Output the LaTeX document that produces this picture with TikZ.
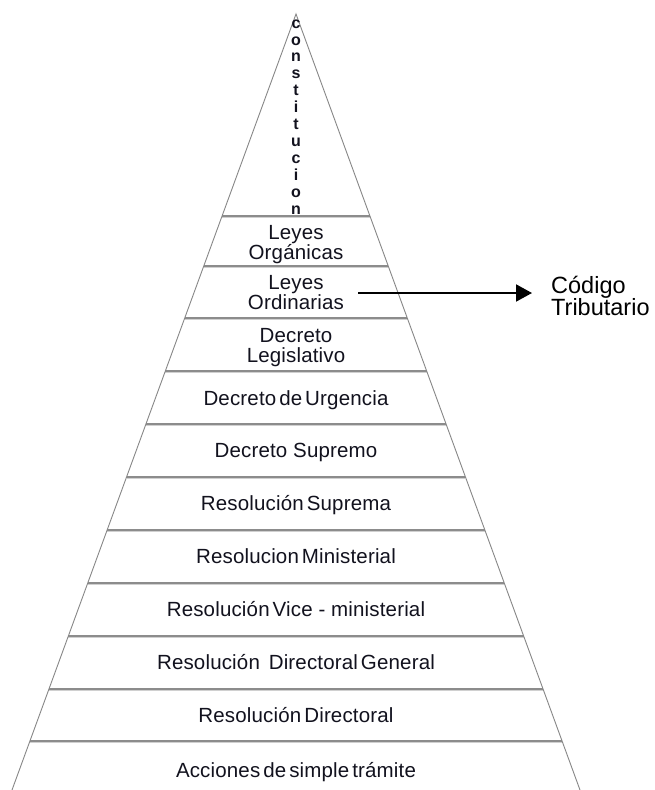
\documentclass[tikz,border=0pt]{standalone}
\usepackage{fontspec}
\setmainfont{Liberation Sans}
\newfontfamily\rowfont[LetterSpace=0.8]{Liberation Sans}
\usetikzlibrary{calc,arrows.meta}

\definecolor{inkc}{RGB}{18,18,30}
\definecolor{edgec}{RGB}{135,135,135}
\definecolor{sepc}{RGB}{140,140,140}
\definecolor{sepshade}{RGB}{208,208,208}
\newcommand\tightsp{\hspace{3pt}}

\begin{document}
\begin{tikzpicture}[x=1pt,y=-1pt,
  edge/.style={draw=edgec, line width=0.9pt},
  sepline/.style={draw=sepc, line width=1.3pt},
  sepshadow/.style={draw=sepshade, line width=1.1pt},
  rowlabel/.style={text=inkc, align=center, inner sep=3pt,
    font={\rowfont\fontsize{20.5}{20}\selectfont\lineskiplimit=-30pt}},
  toplabel/.style={text=inkc, align=center, inner sep=0pt,
    font={\rowfont\bfseries\fontsize{16}{16.95}\selectfont\lineskiplimit=-30pt}},
  sidelabel/.style={text=black, align=left, inner sep=0pt, anchor=west,
    font={\fontsize{23.5}{22}\selectfont\lineskiplimit=-30pt}},
  pointer/.style={-{Triangle[length=16pt,width=17pt]}, line width=2pt, black}
]
\useasboundingbox (0,0) rectangle (655,790);
\fill[white] (0,0) rectangle (655,790);

% pyramid outline
\coordinate (apex) at (296,14);
\coordinate (bl) at (12,790);
\coordinate (br) at (580,790);

% horizontal level separators, clipped to the sloping sides
\foreach \y in {216,266,318,371,424,477,530,583,636,689,741} {
  \pgfmathsetmacro\t{(\y-14)/776}
  \draw[sepshadow] ($(apex)!\t!(bl)+(0,1.4)$) -- ($(apex)!\t!(br)+(0,1.4)$);
  \draw[sepline] ($(apex)!\t!(bl)$) -- ($(apex)!\t!(br)$);
}
\draw[edge] (bl) -- (apex) -- (br);

% level labels
\node[toplabel] (const) at (296,117) {c\\o\\n\\s\\t\\i\\t\\u\\c\\i\\o\\n};
\node[rowlabel] (organ) at (296,245) {Leyes\\Orgánicas};
\node[rowlabel] (ordin) at (296,293) {Leyes\\Ordinarias};
\node[rowlabel] (legis) at (296,348) {Decreto\\Legislativo};
\node[rowlabel, anchor=base] (urgen) at (296,405) {Decreto\tightsp de\tightsp Urgencia};
\node[rowlabel, anchor=base] (supre) at (296,457.5) {Decreto Supremo};
\node[rowlabel, anchor=base] (rsupr) at (296,510.5) {Resolución\tightsp Suprema};
\node[rowlabel, anchor=base] (rmini) at (296,563.5) {Resolucion\tightsp Ministerial};
\node[rowlabel, anchor=base] (rvice) at (296,616.5) {Resolución\tightsp Vice - ministerial};
\node[rowlabel, anchor=base] (rdgen) at (296,669.5) {Resolución \hspace{3pt}Directoral\tightsp General};
\node[rowlabel, anchor=base] (rdire) at (296,722) {Resolución\tightsp Directoral};
\node[rowlabel, anchor=base] (accio) at (296,777) {Acciones\tightsp de\tightsp simple\tightsp trámite};

% side note and its pointer
\node[sidelabel] (codigo) at (551,296) {Código\\Tributario};
\draw[pointer, shorten <=11pt, shorten >=19pt] (ordin.east) -- (ordin.east -| codigo.west);
\end{tikzpicture}
\end{document}
